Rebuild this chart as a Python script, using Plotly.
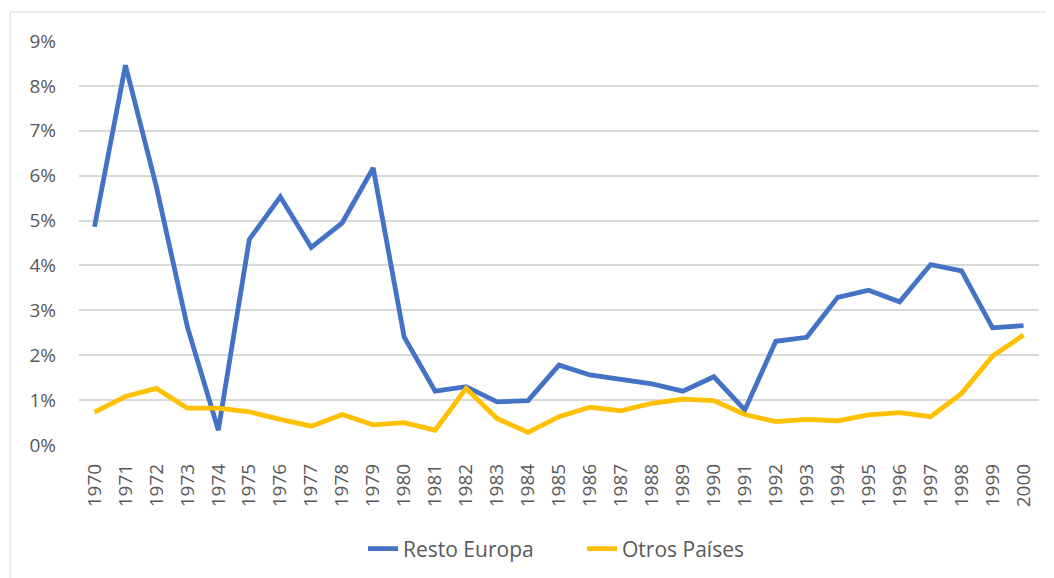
import plotly.graph_objects as go

years = [str(y) for y in range(1970, 2001)]
resto_europa = [4.86, 8.46, 5.75, 2.63, 0.33, 4.58, 5.53, 4.40, 4.95, 6.17,
                2.41, 1.20, 1.30, 0.96, 0.99, 1.78, 1.56, 1.45, 1.36, 1.20,
                1.52, 0.78, 2.31, 2.40, 3.29, 3.45, 3.19, 4.02, 3.88, 2.61, 2.66]
otros_paises = [0.73, 1.08, 1.26, 0.82, 0.82, 0.74, 0.57, 0.42, 0.68, 0.45,
                0.50, 0.33, 1.26, 0.59, 0.28, 0.63, 0.84, 0.76, 0.93, 1.02,
                0.99, 0.68, 0.52, 0.57, 0.54, 0.67, 0.72, 0.63, 1.15, 1.98, 2.45]
series_names = ["Resto Europa", "Otros Países"]
y_ticks = [0, 0.01, 0.02, 0.03, 0.04, 0.05, 0.06, 0.07, 0.08, 0.09]

font_family = "Open Sans"
tick_color = "#595959"

# page body has an 8px margin, so the figure is drawn 8px in from the window edge
W, H = 1046, 570
L, T = 71, 33
PW, PH = 960, 404

fig = go.Figure()
fig.add_trace(go.Scatter(x=years, y=[v / 100 for v in resto_europa], mode="lines",
                         name=series_names[0],
                         line=dict(color="#4472C4", width=4.8, shape="linear")))
fig.add_trace(go.Scatter(x=years, y=[v / 100 for v in otros_paises], mode="lines",
                         name=series_names[1],
                         line=dict(color="#FFC000", width=4.8, shape="linear")))

fig.update_layout(
    width=W, height=H,
    margin=dict(l=L, r=W - L - PW, t=T, b=H - T - PH, autoexpand=False),
    paper_bgcolor="white", plot_bgcolor="white",
    font=dict(family=font_family, color=tick_color, size=19),
    showlegend=True,
    legend=dict(orientation="h", x=0.524, xanchor="center",
                yref="container", y=1 - (549 - 8) / H, yanchor="middle",
                font=dict(size=21, color=tick_color), entrywidth=174,
                bgcolor="rgba(0,0,0,0)"),
    xaxis=dict(type="category", range=[-0.5, 30.5], tickangle=-90,
               showgrid=False, showline=False, zeroline=False, ticks="",
               tickfont=dict(size=19, color=tick_color), ticklabelstandoff=14,
               automargin=False),
    yaxis=dict(range=[0, 0.09], tickvals=y_ticks, tickformat=".0%",
               showgrid=True, gridcolor="#D9D9D9", gridwidth=1.5,
               zeroline=False, showline=False, ticks="",
               tickfont=dict(size=19, color=tick_color), ticklabelstandoff=22,
               automargin=False),
    shapes=[dict(type="rect", xref="paper", yref="paper",
                 x0=(2 - L) / PW, x1=(1060 - L) / PW,
                 y0=(T + PH - 600) / PH, y1=(T + PH - 4) / PH,
                 line=dict(color="#D9D9D9", width=1), layer="below")],
)

fig.write_html("out.html")
